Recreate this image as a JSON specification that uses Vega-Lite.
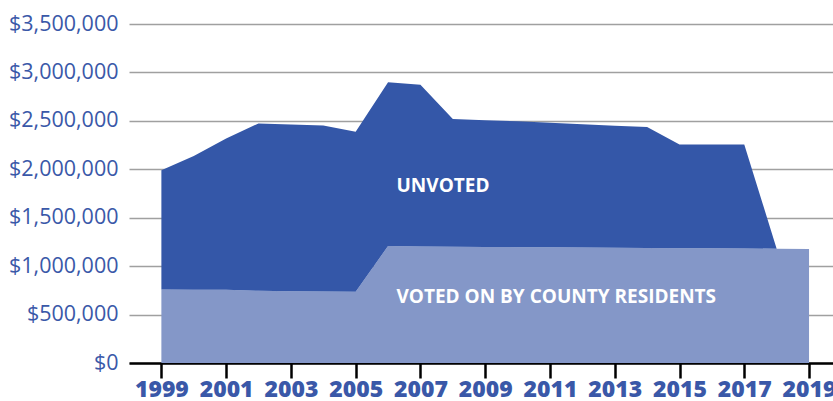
{
  "$schema": "https://vega.github.io/schema/vega-lite/v6.json",
  "autosize": {"type": "none"},
  "padding": {"left": 129, "top": 24, "right": 0, "bottom": 38},
  "width": 704,
  "height": 339,
  "background": "white",
  "config": {"view": {"stroke": null}, "font": "Open Sans"},
  "datasets": {
    "budget": [
      {"year": 1999, "series": "Voted", "amount": 758000},
      {"year": 2000, "series": "Voted", "amount": 757000},
      {"year": 2001, "series": "Voted", "amount": 755000},
      {"year": 2002, "series": "Voted", "amount": 745000},
      {"year": 2003, "series": "Voted", "amount": 740000},
      {"year": 2004, "series": "Voted", "amount": 737000},
      {"year": 2005, "series": "Voted", "amount": 735000},
      {"year": 2006, "series": "Voted", "amount": 1208000},
      {"year": 2007, "series": "Voted", "amount": 1203000},
      {"year": 2008, "series": "Voted", "amount": 1200000},
      {"year": 2009, "series": "Voted", "amount": 1198000},
      {"year": 2010, "series": "Voted", "amount": 1196000},
      {"year": 2011, "series": "Voted", "amount": 1194000},
      {"year": 2012, "series": "Voted", "amount": 1192000},
      {"year": 2013, "series": "Voted", "amount": 1190000},
      {"year": 2014, "series": "Voted", "amount": 1188000},
      {"year": 2015, "series": "Voted", "amount": 1186000},
      {"year": 2016, "series": "Voted", "amount": 1184000},
      {"year": 2017, "series": "Voted", "amount": 1182000},
      {"year": 2018, "series": "Voted", "amount": 1180000},
      {"year": 2019, "series": "Voted", "amount": 1178000},
      {"year": 1999, "series": "Unvoted", "amount": 1233000},
      {"year": 2000, "series": "Unvoted", "amount": 1379000},
      {"year": 2001, "series": "Unvoted", "amount": 1564000},
      {"year": 2002, "series": "Unvoted", "amount": 1729000},
      {"year": 2003, "series": "Unvoted", "amount": 1723000},
      {"year": 2004, "series": "Unvoted", "amount": 1716000},
      {"year": 2005, "series": "Unvoted", "amount": 1652000},
      {"year": 2006, "series": "Unvoted", "amount": 1690000},
      {"year": 2007, "series": "Unvoted", "amount": 1670000},
      {"year": 2008, "series": "Unvoted", "amount": 1318000},
      {"year": 2009, "series": "Unvoted", "amount": 1307000},
      {"year": 2010, "series": "Unvoted", "amount": 1301000},
      {"year": 2011, "series": "Unvoted", "amount": 1286000},
      {"year": 2012, "series": "Unvoted", "amount": 1273000},
      {"year": 2013, "series": "Unvoted", "amount": 1260000},
      {"year": 2014, "series": "Unvoted", "amount": 1248000},
      {"year": 2015, "series": "Unvoted", "amount": 1071000},
      {"year": 2016, "series": "Unvoted", "amount": 1071000},
      {"year": 2017, "series": "Unvoted", "amount": 1075000},
      {"year": 2018, "series": "Unvoted", "amount": 0},
      {"year": 2019, "series": "Unvoted", "amount": 0}
    ],
    "labels": [
      {"label": "UNVOTED", "year": 2006.26, "amount": 1828000},
      {"label": "VOTED ON BY COUNTY RESIDENTS", "year": 2006.26, "amount": 679000}
    ]
  },
  "layer": [
    {
      "data": {"name": "budget"},
      "mark": {"type": "area", "interpolate": "linear"},
      "encoding": {
        "x": {
          "field": "year", "type": "quantitative",
          "scale": {"domain": [1998, 2019.74], "nice": false, "zero": false},
          "axis": {
            "title": null,
            "values": [1999, 2000, 2001, 2002, 2003, 2004, 2005, 2006, 2007, 2008, 2009, 2010, 2011, 2012, 2013, 2014, 2015, 2016, 2017, 2018, 2019],
            "labelExpr": "datum.value % 2 == 1 ? format(datum.value, 'd') : ''",
            "grid": false,
            "domainColor": "#000000",
            "domainWidth": 2.5,
            "tickColor": "#000000",
            "tickWidth": 2.5,
            "tickSize": {"condition": {"test": "datum.value % 2 == 1", "value": 15}, "value": 7},
            "labelFontSize": 23,
            "labelFontWeight": 800,
            "labelColor": "#3a58a8",
            "labelPadding": 0,
            "labelFlush": false,
            "labelOverlap": false
          }
        },
        "y": {
          "field": "amount", "type": "quantitative", "stack": "zero",
          "scale": {"domain": [0, 3500000], "nice": false},
          "axis": {
            "title": null,
            "values": [0, 500000, 1000000, 1500000, 2000000, 2500000, 3000000, 3500000],
            "format": "$,.0f",
            "domain": false,
            "ticks": false,
            "grid": true,
            "gridColor": "#a0a0a0",
            "gridWidth": 1.5,
            "labelPadding": 11,
            "labelFontSize": 21.5,
            "labelColor": "#3a58a8"
          }
        },
        "color": {
          "field": "series", "type": "nominal",
          "scale": {"domain": ["Voted", "Unvoted"], "range": ["#8497c8", "#3457a8"]},
          "legend": null
        },
        "order": {"field": "series", "sort": "descending"}
      }
    },
    {
      "data": {"name": "labels"},
      "mark": {"type": "text", "align": "left", "baseline": "middle", "fontWeight": "bold", "fontSize": 19, "color": "white"},
      "encoding": {
        "x": {"field": "year", "type": "quantitative"},
        "y": {"field": "amount", "type": "quantitative"},
        "text": {"field": "label", "type": "nominal"}
      }
    }
  ]
}
